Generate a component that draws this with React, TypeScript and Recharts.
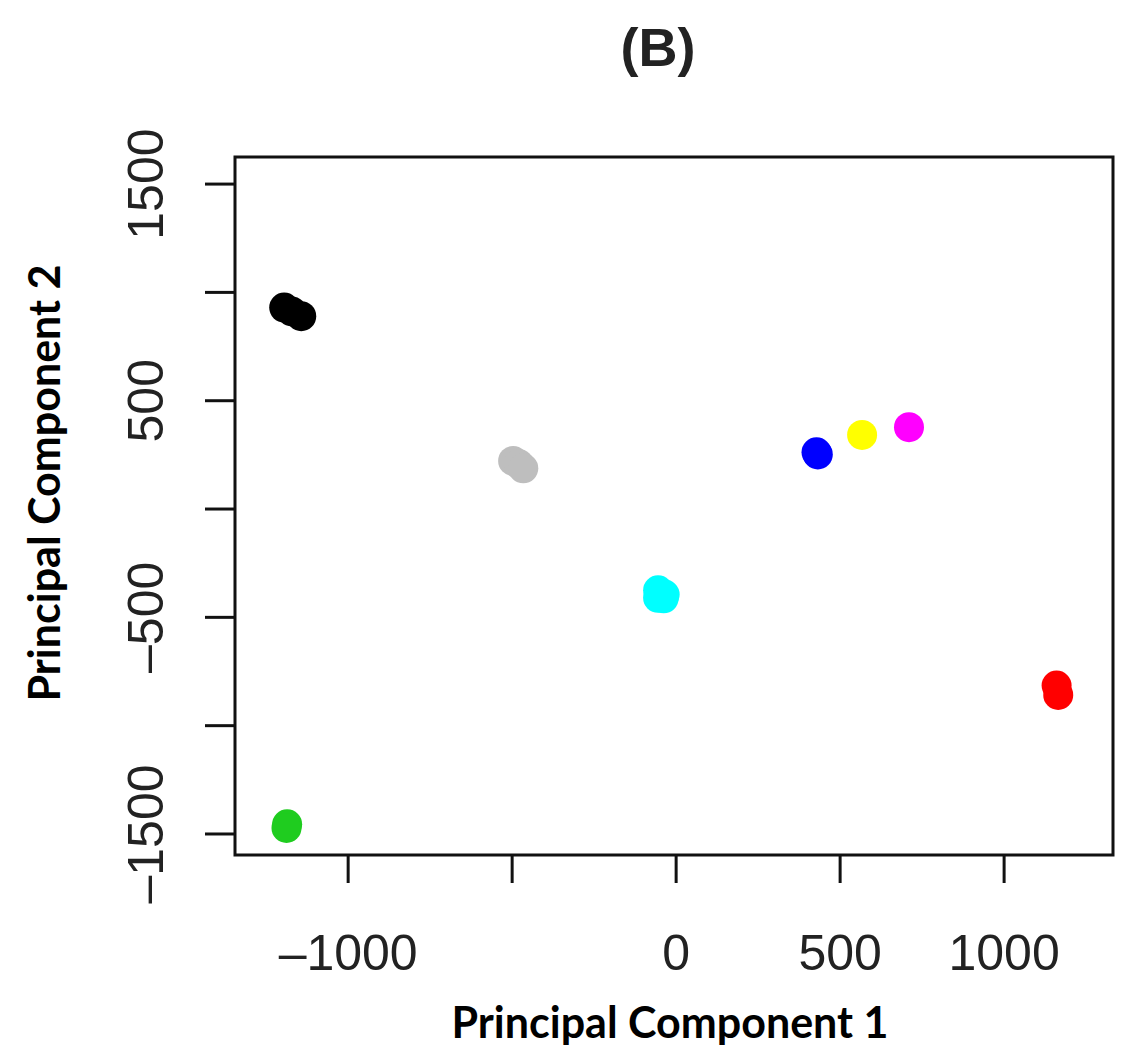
import { ScatterChart, Scatter, XAxis, YAxis, ReferenceArea } from "recharts";

// PCA scores, one small array per sample group
const blackPts = [
  { x: -1195, y: 930 },
  { x: -1172, y: 912 },
  { x: -1143, y: 890 },
];
const grayPts = [
  { x: -497, y: 222 },
  { x: -480, y: 208 },
  { x: -466, y: 188 },
];
const cyanPts = [
  { x: -55, y: -375 },
  { x: -35, y: -395 },
  { x: -55, y: -410 },
  { x: -38, y: -412 },
];
const bluePts = [
  { x: 428, y: 262 },
  { x: 432, y: 252 },
];
const yellowPts = [{ x: 567, y: 342 }];
const magentaPts = [{ x: 710, y: 378 }];
const redPts = [
  { x: 1160, y: -815 },
  { x: 1165, y: -858 },
];
const greenPts = [
  { x: -1186, y: -1455 },
  { x: -1188, y: -1472 },
];

const groups = [
  { name: "black", color: "#000000", data: blackPts },
  { name: "gray", color: "#bebebe", data: grayPts },
  { name: "cyan", color: "#00ffff", data: cyanPts },
  { name: "blue", color: "#0000ff", data: bluePts },
  { name: "yellow", color: "#ffff00", data: yellowPts },
  { name: "magenta", color: "#ff00ff", data: magentaPts },
  { name: "red", color: "#ff0000", data: redPts },
  { name: "green", color: "#1fcc1f", data: greenPts },
];

const xDomain = [-1345, 1332];
const yDomain = [-1597, 1625];
const xTicks = [-1000, -500, 0, 500, 1000];
const yTicks = [-1500, -1000, -500, 0, 500, 1000, 1500];
// R drops some labels where they would collide
const xShown = [-1000, 0, 500, 1000];
const yShown = [-1500, -500, 500, 1500];

const tickFont = "'Liberation Sans', Arial, sans-serif";
const labelFont = "Lato, 'Open Sans', sans-serif";

function fmt(v: number) {
  return v < 0 ? "\u2013" + Math.abs(v) : String(v);
}

function XTick(props: any) {
  const { x, y, payload } = props;
  if (!xShown.includes(payload.value)) return null;
  return (
    <text
      x={x}
      y={y + 85}
      textAnchor="middle"
      fontFamily={tickFont}
      fontSize={50}
      fill="#222"
    >
      {fmt(payload.value)}
    </text>
  );
}

function YTick(props: any) {
  const { y, payload } = props;
  if (!yShown.includes(payload.value)) return null;
  const cx = 146;
  return (
    <text
      x={cx}
      y={y}
      textAnchor="middle"
      dominantBaseline="central"
      transform={`rotate(-90 ${cx} ${y})`}
      fontFamily={tickFont}
      fontSize={50}
      fill="#222"
    >
      {fmt(payload.value)}
    </text>
  );
}

function Dot(color: string) {
  return (props: any) => <circle cx={props.cx} cy={props.cy} r={15} fill={color} />;
}

export default function App() {
  return (
    <div style={{ position: "absolute", left: 0, top: 0, width: 1130, height: 1051, background: "#fff" }}>
      <svg width={1130} height={1051} style={{ position: "absolute", left: 0, top: 0 }}>
        <text
          x={658}
          y={47}
          textAnchor="middle"
          dominantBaseline="central"
          fontFamily={tickFont}
          fontWeight="bold"
          fontSize={54}
          fill="#222"
        >
          (B)
        </text>
        <text
          x={43}
          y={483}
          textAnchor="middle"
          dominantBaseline="central"
          transform="rotate(-90 43 483)"
          fontFamily={labelFont}
          fontWeight="bold"
          fontSize={43}
          fill="#000"
        >
          Principal Component 2
        </text>
        <text
          x={670}
          y={1021}
          textAnchor="middle"
          dominantBaseline="central"
          fontFamily={labelFont}
          fontWeight="bold"
          fontSize={43}
          fill="#000"
        >
          Principal Component 1
        </text>
      </svg>
      <div style={{ position: "absolute", left: 0, top: 0 }}>
        <ScatterChart
          width={1130}
          height={1051}
          margin={{ left: 135, right: 17, top: 157, bottom: 96 }}
        >
          <XAxis
            type="number"
            dataKey="x"
            domain={xDomain}
            ticks={xTicks}
            allowDataOverflow
            height={100}
            axisLine={false}
            tickSize={28}
            tickLine={{ stroke: "#111", strokeWidth: 3 }}
            tick={<XTick />}
            interval={0}
          />
          <YAxis
            type="number"
            dataKey="y"
            domain={yDomain}
            ticks={yTicks}
            allowDataOverflow
            width={100}
            axisLine={false}
            tickSize={30}
            tickLine={{ stroke: "#111", strokeWidth: 3 }}
            tick={<YTick />}
            interval={0}
          />
          <ReferenceArea
            x1={xDomain[0]}
            x2={xDomain[1]}
            y1={yDomain[0]}
            y2={yDomain[1]}
            fill="none"
            fillOpacity={0}
            stroke="#111"
            strokeWidth={3}
            ifOverflow="visible"
          />
          {groups.map((g) => (
            <Scatter
              key={g.name}
              name={g.name}
              data={g.data}
              fill={g.color}
              shape={Dot(g.color)}
              isAnimationActive={false}
            />
          ))}
        </ScatterChart>
      </div>
    </div>
  );
}
